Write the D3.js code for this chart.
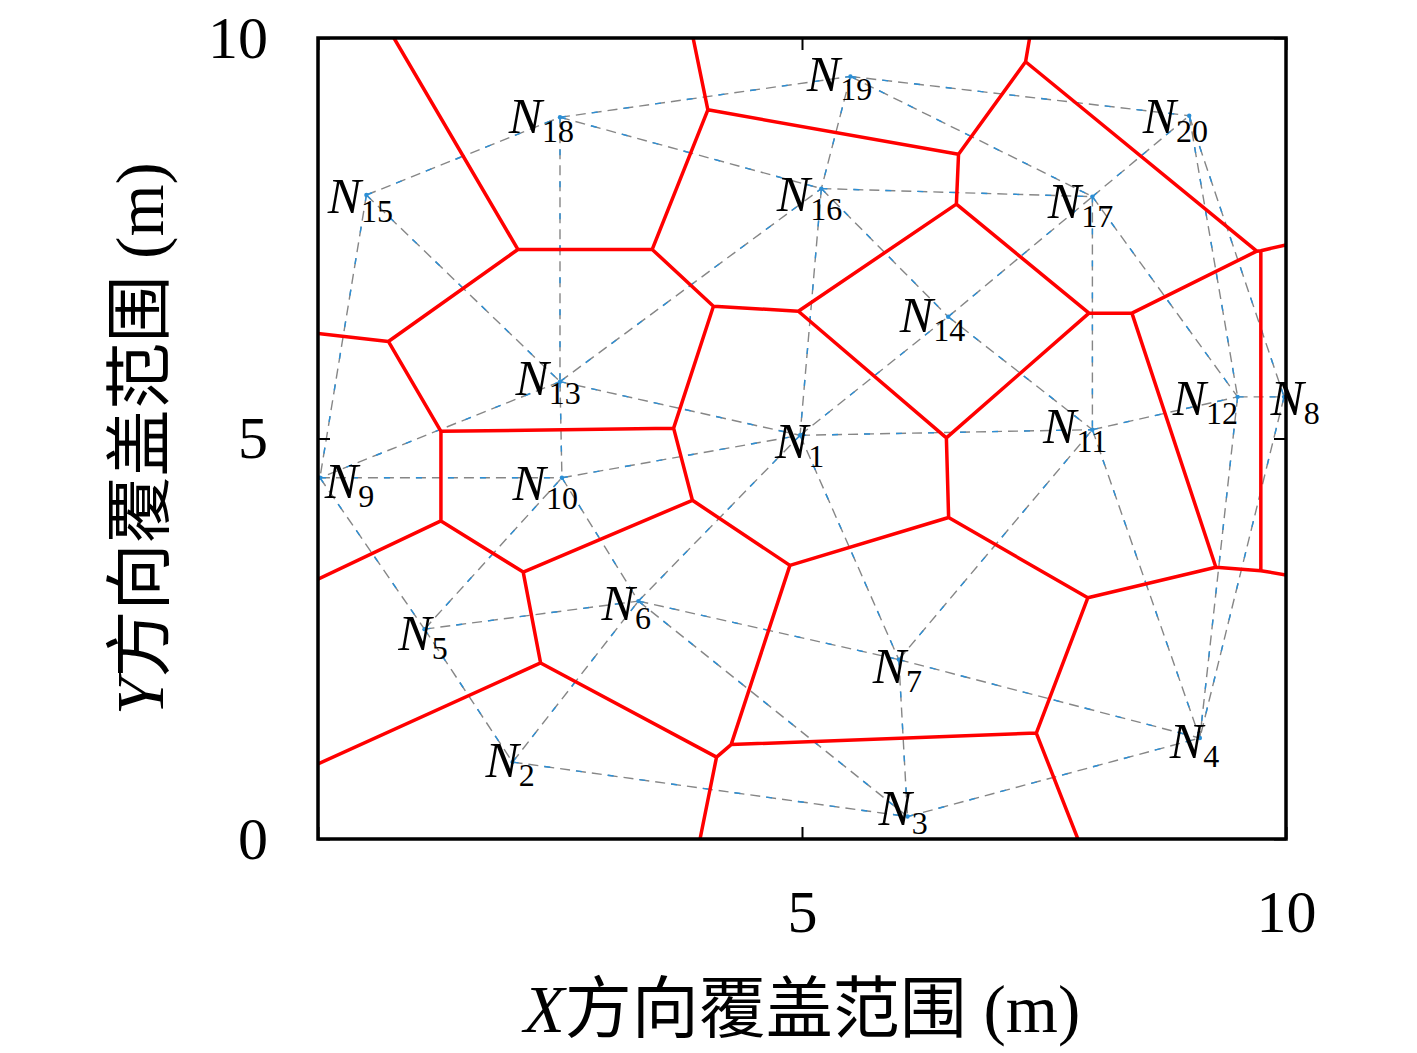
<!DOCTYPE html>
<html>
<head>
<meta charset="utf-8">
<script src="https://cdn.jsdelivr.net/npm/d3@7"></script>
<style>
  html, body { margin: 0; padding: 0; background: #fff; }
  svg { display: block; }
</style>
</head>
<body>
<svg id="chart" width="1417" height="1053"></svg>
<script>
// sensor nodes N1..N20, coverage area in metres
const nodeIds = d3.range(1, 21);
const nodeX = [4.98, 2.01, 6.09, 9.11, 1.10, 3.31, 6.00, 9.98, 0.02, 2.52,
               8.00, 9.50, 2.50, 6.51, 0.50, 5.20, 8.00, 2.50, 5.50, 9.00];
const nodeY = [5.04, 0.96, 0.28, 1.26, 2.62, 2.97, 2.24, 5.52, 4.51, 4.51,
               5.11, 5.52, 5.71, 6.52, 8.04, 8.12, 8.02, 9.01, 9.52, 9.03];

// where each "N_i" label sits (left edge / baseline, metres)
const labelX = [4.72, 1.73, 5.79, 8.80, 0.83, 2.93, 5.73, 9.84, 0.07, 2.01,
                7.49, 8.83, 2.04, 6.01, 0.10, 4.74, 7.54, 1.97, 5.05, 8.52];
const labelY = [4.76, 0.77, 0.18, 1.01, 2.36, 2.73, 1.95, 5.29, 4.26, 4.23,
                4.94, 5.29, 5.54, 6.33, 7.82, 7.84, 7.75, 8.81, 9.34, 8.81];

// neighbour links between nodes (dashed)
const links = [
  [15, 18], [18, 19], [18, 16], [18, 13], [15, 13], [15, 9], [13, 16], [13, 9],
  [13, 1], [13, 10], [9, 10], [10, 1], [1, 11], [11, 12], [12, 8], [1, 14],
  [16, 1], [19, 16], [19, 17], [19, 20], [16, 17], [16, 14], [14, 17], [14, 11],
  [17, 20], [17, 11], [17, 12], [20, 12], [20, 8], [9, 5], [5, 10], [5, 6],
  [5, 2], [2, 6], [2, 3], [10, 6], [6, 1], [6, 7], [6, 3], [1, 7],
  [7, 11], [7, 4], [7, 3], [3, 4], [11, 4], [12, 4], [8, 4]
];

const ticks = [0, 5, 10];
const xTickLabels = [5, 10];

const margin = { left: 318, right: 131, top: 38, bottom: 214 };
const width = 1417, height = 1053;

const svg = d3.select("#chart");

const x = d3.scaleLinear().domain([0, 10]).range([margin.left, width - margin.right]);
const y = d3.scaleLinear().domain([0, 10]).range([height - margin.bottom, margin.top]);

const serif = "'Liberation Serif', 'DejaVu Serif', serif";
const cjk = "'Noto Sans CJK SC', sans-serif";

svg.append("defs").append("clipPath").attr("id", "plot-clip")
  .append("rect")
  .attr("x", x(0)).attr("y", y(10))
  .attr("width", x(10) - x(0)).attr("height", y(0) - y(10));

const plot = svg.append("g").attr("clip-path", "url(#plot-clip)");

// dashed links
const linkG = plot.append("g");
linkG.selectAll("line.gray")
  .data(links)
  .join("line")
  .attr("class", "gray")
  .attr("x1", d => x(nodeX[d[0] - 1])).attr("y1", d => y(nodeY[d[0] - 1]))
  .attr("x2", d => x(nodeX[d[1] - 1])).attr("y2", d => y(nodeY[d[1] - 1]))
  .attr("stroke", "#868686")
  .attr("stroke-width", 1.4)
  .attr("stroke-dasharray", "10,6");

linkG.selectAll("line.blue")
  .data(links)
  .join("line")
  .attr("class", "blue")
  .attr("x1", d => x(nodeX[d[0] - 1])).attr("y1", d => y(nodeY[d[0] - 1]))
  .attr("x2", d => x(nodeX[d[1] - 1])).attr("y2", d => y(nodeY[d[1] - 1]))
  .attr("stroke", "#2b8fd6")
  .attr("stroke-width", 1.4)
  .attr("stroke-dasharray", "6,26");

// voronoi cells of the nodes, computed in metres then drawn through the scales
const delaunay = d3.Delaunay.from(nodeIds.map((d, i) => [nodeX[i], nodeY[i]]));
const voronoi = delaunay.voronoi([0, 0, 10, 10]);
const vPath = d3.path();
voronoi.render({
  moveTo: (a, b) => vPath.moveTo(x(a), y(b)),
  lineTo: (a, b) => vPath.lineTo(x(a), y(b)),
  closePath: () => vPath.closePath()
});

plot.append("path")
  .attr("d", vPath.toString())
  .attr("fill", "none")
  .attr("stroke", "#ff0000")
  .attr("stroke-width", 3.5)
  .attr("stroke-linejoin", "round");

// node markers
plot.selectAll("circle")
  .data(nodeIds)
  .join("circle")
  .attr("cx", (d, i) => x(nodeX[i]))
  .attr("cy", (d, i) => y(nodeY[i]))
  .attr("r", 2.2)
  .attr("fill", "#2b8fd6");

// node labels
const labels = svg.append("g")
  .selectAll("text")
  .data(nodeIds)
  .join("text")
  .attr("x", (d, i) => x(labelX[i]))
  .attr("y", (d, i) => y(labelY[i]))
  .attr("font-family", serif)
  .attr("font-size", 50)
  .attr("fill", "#000");

labels.append("tspan").attr("font-style", "italic").text("N");
labels.append("tspan")
  .attr("font-size", 32)
  .attr("dy", 9)
  .text(d => d);

// axes: ticks inward on all four sides
const axisStyle = g => {
  g.select(".domain").remove();
  g.selectAll(".tick line").attr("stroke", "#000").attr("stroke-width", 2);
  g.selectAll(".tick text")
    .attr("font-family", serif)
    .attr("font-size", 60)
    .attr("fill", "#000");
};

svg.append("g")
  .attr("transform", `translate(${x(0)},0)`)
  .call(d3.axisLeft(y).tickValues(ticks).tickSize(-12).tickPadding(50))
  .call(axisStyle);

svg.append("g")
  .attr("transform", `translate(${x(10)},0)`)
  .call(d3.axisRight(y).tickValues(ticks).tickSize(-12).tickFormat(""))
  .call(axisStyle);

svg.append("g")
  .attr("transform", `translate(0,${y(0)})`)
  .call(d3.axisBottom(x).tickValues(ticks).tickSize(-12).tickPadding(50)
    .tickFormat(d => xTickLabels.includes(d) ? d : ""))
  .call(axisStyle);

svg.append("g")
  .attr("transform", `translate(0,${y(10)})`)
  .call(d3.axisTop(x).tickValues(ticks).tickSize(-12).tickFormat(""))
  .call(axisStyle);

// frame
svg.append("rect")
  .attr("x", x(0)).attr("y", y(10))
  .attr("width", x(10) - x(0)).attr("height", y(0) - y(10))
  .attr("fill", "none")
  .attr("stroke", "#000")
  .attr("stroke-width", 3.5);

// axis titles
function axisTitle(sel, letter) {
  sel.attr("font-size", 67).attr("fill", "#000").attr("text-anchor", "middle");
  sel.append("tspan").attr("font-family", serif).attr("font-style", "italic").text(letter);
  sel.append("tspan").attr("font-family", cjk).text("方向覆盖范围");
  sel.append("tspan").attr("font-family", serif).text(" (m)");
}

svg.append("text")
  .attr("x", (x(0) + x(10)) / 2)
  .attr("y", 1032)
  .call(axisTitle, "X");

svg.append("text")
  .attr("transform", `translate(163,${(y(0) + y(10)) / 2}) rotate(-90)`)
  .call(axisTitle, "Y");
</script>
</body>
</html>
